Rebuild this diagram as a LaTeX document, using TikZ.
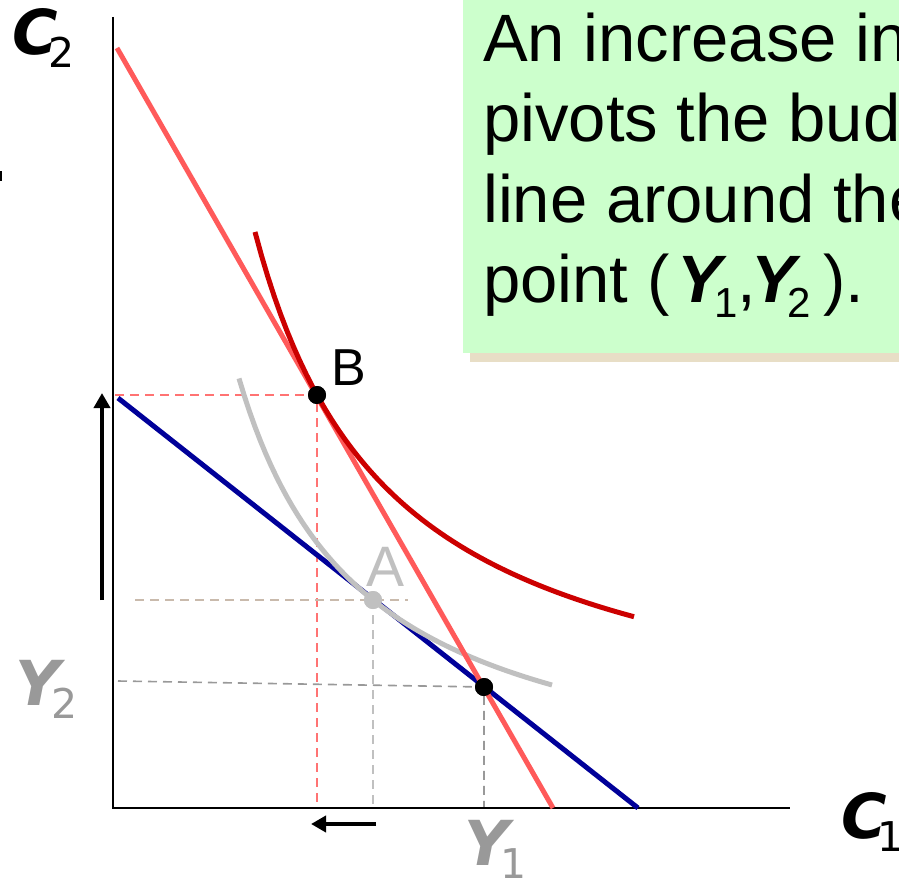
\documentclass[tikz,border=0pt]{standalone}
\usepackage{fontspec}
\setmainfont{Liberation Sans}
\newfontfamily\axfont{DejaVu Sans}
\usetikzlibrary{arrows.meta}
\definecolor{budgetred}{RGB}{255,90,90}
\definecolor{budgetblue}{RGB}{0,0,153}
\definecolor{icred}{RGB}{204,0,0}
\definecolor{icgray}{RGB}{192,192,192}
\definecolor{labgray}{RGB}{153,153,153}
\definecolor{notegreen}{RGB}{204,255,204}
\definecolor{noteshadow}{RGB}{232,222,198}
\definecolor{dashbeige}{RGB}{201,186,172}
\newcommand{\axvar}[2]{{\axfont\bfseries\itshape\fontsize{62}{62}\selectfont #1}\kern-9pt\raisebox{-13pt}{\axfont\fontsize{41}{41}\selectfont #2}}
\newcommand{\noteY}[1]{\textbf{\textit{Y}}\kern-13pt\raisebox{-15pt}{\fontsize{42}{42}\selectfont #1}}

\begin{document}
\begin{tikzpicture}[x=1pt, y=-1pt,
    axis/.style={line width=2.5pt},
    budget/.style={line width=5pt},
    curve/.style={line width=5pt},
    guide/.style={line width=1.6pt, dash pattern=on 9pt off 6pt},
    dot/.style={circle, fill=black, inner sep=0pt, minimum size=18pt},
    shiftarrow/.style={line width=4pt, -{Triangle[length=15pt, width=16pt]}},
    note/.style={anchor=base west, inner sep=0pt, font=\fontsize{67}{80}\selectfont},
  ]
  \useasboundingbox (0,0) rectangle (899,880);

  % note box
  \fill[noteshadow] (470,-10) rectangle (930,362);
  \fill[notegreen] (463,-10) rectangle (920,353);
  \node[note] (l1) at (483,62) {An increase in};
  \node[note] (l2) at (483,142) {pivots the budget};
  \node[note] (l3) at (483,222) {line around the};
  \node[note] (l4) at (483,302) {point (\kern8pt\noteY{1},\kern-5pt\noteY{2}\kern12pt).};

  \fill (0,171) rectangle (2,181);

  % axes
  \coordinate (O) at (113,808);
  \coordinate (ytop) at (113,17);
  \coordinate (xend) at (790,808);

  \node[dot] (B) at (317,395) {};
  \node[dot, fill=icgray] (A) at (373,600) {};
  \node[dot] (P) at (484,687) {};

  \draw[guide, budgetred!85] (115,395) -- (B.center) -- (B.center |- O);
  \draw[guide, dashbeige] (135,600) -- (408,600);
  \draw[guide, icgray] (A.center) -- (A.center |- O);
  \draw[guide, labgray] (118,681) -- (P.center) -- (P.center |- O);

  \draw[axis] (ytop) -- (O) -- (xend);

  % budget lines and indifference curves
  \coordinate (blue1) at (118,398);
  \coordinate (blue2) at (638,808);
  \coordinate (red1) at (117,48);
  \coordinate (red2) at (553,808);
  \draw[budget, budgetblue] (blue1) -- (blue2);
  \draw[curve, icgray] plot[domain=239:552, samples=60] (\x, {808.5 - 542.31/((\x-112.9)/100)});
  \draw[budget, budgetred] (red1) -- (red2);
  \draw[curve, icred] plot[domain=255:634, samples=60] (\x, {756.2 - 720.3/((\x-117.6)/100)});

  \node[dot] at (B) {};
  \node[dot, fill=icgray] at (A) {};
  \node[dot] at (P) {};
  \node[anchor=base west, inner sep=0pt, font=\fontsize{52}{52}\selectfont] (Blab) at (331,385) {B};
  \node[anchor=base, inner sep=0pt, text=icgray, font=\fontsize{57}{57}\selectfont] (Alab) at (386,586) {A};

  % shifts
  \coordinate (up0) at (102,600);
  \coordinate (up1) at (102,393);
  \coordinate (left0) at (376,824);
  \coordinate (left1) at (311,824);
  \draw[shiftarrow] (up0) -- (up1);
  \draw[shiftarrow] (left0) -- (left1);

  % axis labels
  \node[anchor=base west, inner sep=0pt] (C2) at (12,55) {\axvar{C}{2}};
  \node[anchor=base west, inner sep=0pt] (C1) at (841,838) {\axvar{C}{1}};
  \node[anchor=base west, inner sep=0pt, text=labgray] (Y2) at (15,705) {\axvar{Y}{2}};
  \node[anchor=base west, inner sep=0pt, text=labgray] (Y1) at (464,865) {\axvar{Y}{1}};
\end{tikzpicture}
\end{document}
